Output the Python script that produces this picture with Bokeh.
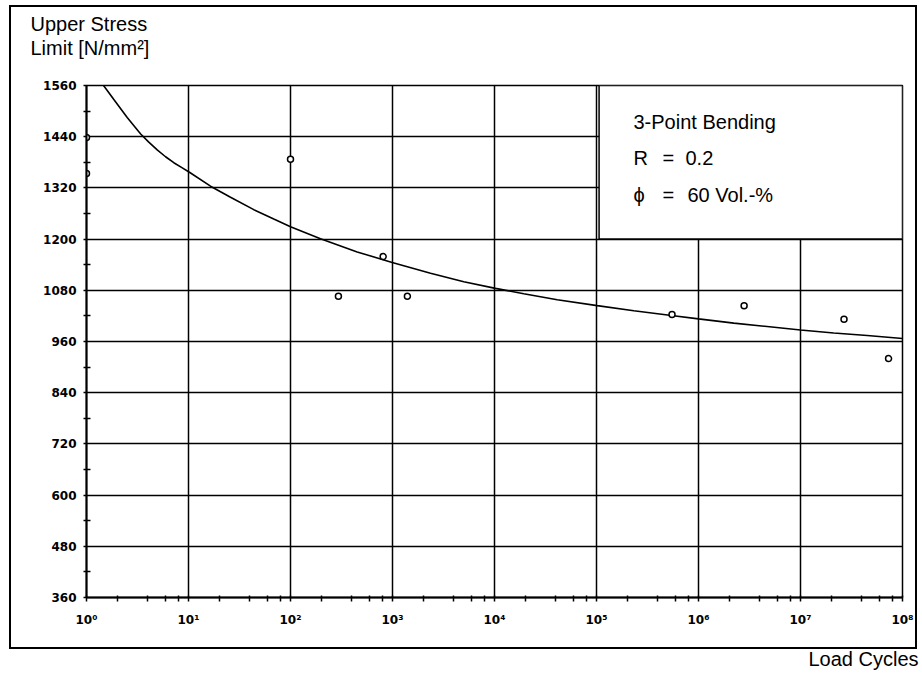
from bokeh.plotting import figure
from bokeh.models import Range1d, FixedTicker, Label, BoxAnnotation, Title
from bokeh.embed import file_html
from bokeh.resources import INLINE

# ---- data ----
x_ticks = [1, 10, 100, 1000, 10000, 100000, 1000000, 10000000, 100000000]
x_tick_labels = ["10⁰", "10¹", "10²", "10³", "10⁴", "10⁵", "10⁶", "10⁷", "10⁸"]
x_minor = [m * d for d in [1, 10, 100, 1000, 10000, 100000, 1000000, 10000000] for m in (2, 4, 6, 8)]
y_ticks = [360, 480, 600, 720, 840, 960, 1080, 1200, 1320, 1440, 1560]
y_minor = [420, 540, 660, 780, 900, 1020, 1140, 1260, 1380, 1500]

# fitted curve
curve_n = [1.469, 1.854, 2.506, 3.381, 4.055, 4.932, 5.957, 7.178, 8.531, 10.30,
           16.44, 25.82, 43.65, 68.55, 100, 196.8, 450.8, 993, 2360, 5000,
           10230, 19360, 41210, 101600, 232300, 543300, 1000000, 2218000,
           4710000, 10000000, 21180000, 45080000, 100000000]
curve_s = [1560, 1527, 1485, 1447, 1428, 1409, 1393, 1379, 1368, 1356,
           1324, 1298, 1269, 1247, 1229, 1201, 1170, 1145, 1120, 1100,
           1084.5, 1072, 1058, 1044, 1032, 1021, 1013, 1003,
           995, 987, 980, 974, 967]

# measured points
pts_n = [1.0, 1.0, 100, 295, 810, 1400, 550000, 2800000, 26700000, 73000000]
pts_s = [1438, 1354, 1387, 1066, 1159, 1066, 1023, 1044, 1012, 920]

TXT_FONT = "Liberation Sans"
TICK_FONT = "DejaVu Sans"

p = figure(x_axis_type="log", x_range=Range1d(1, 1e8), y_range=Range1d(360, 1560),
           frame_width=816, frame_height=512, title=None,
           min_border_left=86, min_border_right=18, min_border_top=85, min_border_bottom=87,
           output_backend="svg", toolbar_location=None,
           background_fill_color="white", border_fill_color=None)

# outer frame of the whole chart, painted behind the (transparent) canvas border
p.styles = {
    "background-color": "white",
    "background-image": ", ".join(["linear-gradient(#000, #000)"] * 4),
    "background-repeat": "no-repeat",
    "background-size": "906px 2px, 906px 2px, 2px 644px, 2px 644px",
    "background-position": "10px 5px, 10px 647px, 9px 5px, 915px 5px",
}

def title(text, side, align, offset, standoff):
    p.add_layout(Title(text=text, text_font=TXT_FONT, text_font_size="20px",
                       text_font_style="normal", text_color="black",
                       align=align, offset=offset, standoff=standoff), side)

# y-axis caption (two stacked titles; the first one sits next to the frame)
title("Limit [N/mm²]", "above", "left", -56, 53)
title("Upper Stress", "above", "left", -56, -53)
# x-axis caption
title("Load Cycles", "below", "right", -16, 32)

p.outline_line_color = "black"
p.outline_line_width = 1.5

# grid
p.xgrid.ticker = FixedTicker(ticks=x_ticks)
p.ygrid.ticker = FixedTicker(ticks=y_ticks)
for g in (p.xgrid, p.ygrid):
    g.grid_line_color = "black"
    g.grid_line_width = 1.5
    g.grid_line_alpha = 1.0

# axes
p.xaxis.ticker = FixedTicker(ticks=x_ticks, minor_ticks=x_minor)
p.xaxis.major_label_overrides = {t: lab for t, lab in zip(x_ticks, x_tick_labels)}
p.yaxis.ticker = FixedTicker(ticks=y_ticks, minor_ticks=y_minor)
for ax in (p.xaxis, p.yaxis):
    ax.axis_line_color = "black"
    ax.axis_line_width = 2
    ax.major_tick_line_color = "black"
    ax.minor_tick_line_color = "black"
    ax.major_tick_line_width = 1.5
    ax.minor_tick_line_width = 1.5
    ax.major_label_text_font = TICK_FONT
    ax.major_label_text_font_style = "bold"
    ax.major_label_text_font_size = "12px"
    ax.major_label_text_color = "black"
p.xaxis.major_tick_in = 2
p.xaxis.major_tick_out = 4
p.xaxis.minor_tick_in = 2
p.xaxis.minor_tick_out = 4
p.xaxis.major_label_standoff = 11
p.yaxis.major_tick_in = 0
p.yaxis.major_tick_out = 3
p.yaxis.minor_tick_in = 4
p.yaxis.minor_tick_out = 3
p.yaxis.major_label_standoff = 7

# curve and points
p.line(curve_n, curve_s, line_color="black", line_width=1.6)
p.scatter(pts_n, pts_s, marker="circle", size=6, line_color="black",
          fill_color="white", line_width=1.5)

# legend box (white, covers grid)
p.add_layout(BoxAnnotation(left=1.06e5, right=1e8, bottom=1200, top=1560,
                           fill_color="white", fill_alpha=1.0,
                           line_color="black", line_alpha=1.0, line_width=1.5))

def lab(x, y, text):
    p.add_layout(Label(x=x, y=y, x_units="screen", y_units="screen", text=text,
                       text_font=TXT_FONT, text_font_size="20px", text_color="black",
                       text_align="left", text_baseline="alphabetic"))

# legend texts (screen units relative to the plot frame, y upwards)
lab(547, 476, "3-Point Bending")
lab(547, 440, "R")
lab(576, 440, "=")
lab(599, 440, "0.2")
lab(547, 403, "ϕ")
lab(576, 403, "=")
lab(601, 403, "60 Vol.-%")

open("out.html", "w").write(file_html(p, INLINE))
